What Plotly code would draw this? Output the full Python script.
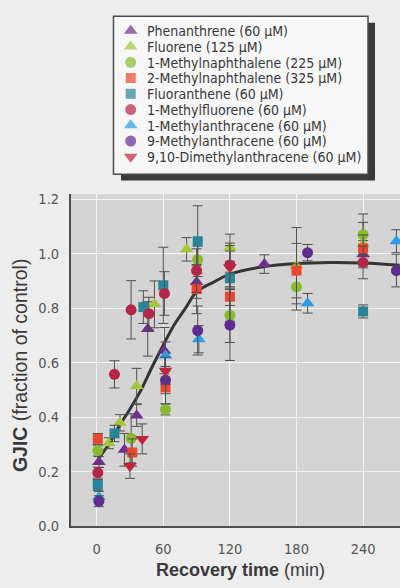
import plotly.graph_objects as go

# ---------------- data ----------------
series_names = [
    "Phenanthrene (60 μM)",
    "Fluorene (125 μM)",
    "1-Methylnaphthalene (225 μM)",
    "2-Methylnaphthalene (325 μM)",
    "Fluoranthene (60 μM)",
    "1-Methylfluorene (60 μM)",
    "1-Methylanthracene (60 μM)",
    "9-Methylanthracene (60 μM)",
    "9,10-Dimethylanthracene (60 μM)",
]

phen_t = [2, 25, 36, 46, 61, 90, 151, 240]
phen_v = [0.235, 0.28, 0.406, 0.724, 0.644, 0.896, 0.962, 0.998]
phen_e = [0.02, 0.06, 0.04, 0.10, 0.085, 0.06, 0.034, 0.05]

fluo_t = [11, 21, 36, 52, 81, 120, 180, 240]
fluo_v = [0.304, 0.379, 0.514, 0.814, 1.016, 1.022, 0.956, 1.035]
fluo_e = [0.02, 0.03, 0.065, 0.086, 0.043, 0.05, 0.14, 0.08]

mn1_t = [1, 31, 62, 91, 120, 180, 240]
mn1_v = [0.277, 0.322, 0.428, 0.978, 0.774, 0.878, 1.07]
mn1_e = [0.02, 0.09, 0.02, 0.05, 0.10, 0.085, 0.076]

mn2_t = [1, 32, 62, 90, 120, 180, 240]
mn2_v = [0.32, 0.27, 0.509, 0.87, 0.842, 0.938, 1.019]
mn2_e = [0.02, 0.05, 0.06, 0.09, 0.09, 0.10, 0.05]

flt_t = [1, 16, 42, 60, 91, 120, 240]
flt_v = [0.151, 0.34, 0.804, 0.884, 1.046, 0.91, 0.788]
flt_e = [0.02, 0.03, 0.06, 0.14, 0.13, 0.10, 0.024]

mf1_t = [1, 16, 31, 47, 61, 90, 120, 240]
mf1_v = [0.196, 0.557, 0.794, 0.78, 0.854, 0.938, 0.959, 0.968]
mf1_e = [0.02, 0.05, 0.107, 0.06, 0.08, 0.08, 0.08, 0.06]

ma1_t = [2, 62, 92, 190, 270]
ma1_v = [0.107, 0.626, 0.686, 0.818, 1.046]
ma1_e = [0.02, 0.05, 0.05, 0.036, 0.042]

ma9_t = [2, 62, 91, 120, 190, 270]
ma9_v = [0.091, 0.536, 0.718, 0.738, 1.004, 0.938]
ma9_e = [0.02, 0.05, 0.09, 0.13, 0.03, 0.06]

dma_t = [30, 41, 62, 120]
dma_v = [0.22, 0.32, 0.57, 0.95]
dma_e = [0.045, 0.055, 0.05, 0.08]

# fitted curve
curve_t = [1, 10, 20, 30, 40, 50, 60, 70, 80, 90, 105, 120, 150, 180, 210, 240, 273]
curve_v = [0.245, 0.295, 0.365, 0.43, 0.50, 0.585, 0.665, 0.74, 0.80, 0.86, 0.895,
           0.925, 0.952, 0.964, 0.968, 0.966, 0.958]

x_ticks = [0, 60, 120, 180, 240]
y_ticks = [0.0, 0.2, 0.4, 0.6, 0.8, 1.0, 1.2]

# ---------------- styles ----------------
symbols = ["triangle-up", "triangle-up", "circle", "square", "square",
           "circle", "triangle-up", "circle", "triangle-down"]
colors = ["#6e2f8f", "#a3c63a", "#88b92f", "#e9472f", "#288597",
          "#b3264a", "#2c9ce3", "#5f2c90", "#c0233b"]
msize = {"triangle-up": 12, "triangle-down": 12, "circle": 11, "square": 10}

series_t = [phen_t, fluo_t, mn1_t, mn2_t, flt_t, mf1_t, ma1_t, ma9_t, dma_t]
series_v = [phen_v, fluo_v, mn1_v, mn2_v, flt_v, mf1_v, ma1_v, ma9_v, dma_v]
series_e = [phen_e, fluo_e, mn1_e, mn2_e, flt_e, mf1_e, ma1_e, ma9_e, dma_e]

W, H = 400, 588
PL, PR, PT, PB = 71, 400, 195, 533   # plot area in pixels
NARROW = "Liberation Sans Narrow, Arial Narrow, DejaVu Sans Condensed, sans-serif"
REG = "Liberation Sans, Arial, Helvetica, sans-serif"
PAPER = "#ededed"
PLOTBG = "#d4d4d4"
AXC = "#4e4e4e"


def px(x):
    return x / W


def py(y):
    return 1 - y / H


fig = go.Figure()

fig.add_trace(go.Scatter(
    x=curve_t, y=curve_v, mode="lines", line=dict(color="#353535", width=3, shape="spline"),
    showlegend=False, hoverinfo="skip"))

for name, t, v, e, sym, col in zip(series_names, series_t, series_v, series_e, symbols, colors):
    fig.add_trace(go.Scatter(
        x=t, y=v, mode="markers", name=name, showlegend=False,
        marker=dict(symbol=sym, color=col, size=msize[sym], line=dict(width=0)),
        error_y=dict(type="data", array=e, color="#505050", thickness=1, width=5),
    ))

# manual legend (markers on an overlay pixel-axis, labels as annotations)
row0, row_step = 28.3, 16.05
leg_rows = [row0 + i * row_step for i in range(len(series_names))]
fig.add_trace(go.Scatter(
    x=[130.7] * len(series_names), y=leg_rows, mode="markers", xaxis="x2", yaxis="y2",
    marker=dict(symbol=symbols, color=colors, size=[msize[s] for s in symbols], line=dict(width=0)),
    showlegend=False, hoverinfo="skip"))

annotations = []
for name, yr in zip(series_names, leg_rows):
    annotations.append(dict(
        text=name, x=px(145.5), y=py(yr + 0.3), xref="paper", yref="paper",
        xanchor="left", yanchor="middle", showarrow=False, borderpad=0,
        font=dict(family=NARROW, size=14, color="#383838")))

annotations.append(dict(
    text="<b>Recovery time</b> (min)", x=px(240), y=py(578), xref="paper", yref="paper",
    xanchor="center", yanchor="middle", showarrow=False,
    font=dict(family=REG, size=18, color="#3a3a3a")))
annotations.append(dict(
    text="<b>GJIC</b> (fraction of control)", x=px(20), y=py(369), xref="paper", yref="paper",
    xanchor="center", yanchor="middle", showarrow=False, textangle=-90,
    font=dict(family=REG, size=19.5, color="#3a3a3a")))

shapes = [
    # plot area background
    dict(type="rect", xref="paper", yref="paper", x0=px(PL), x1=px(PR), y0=py(PB), y1=py(PT),
         fillcolor=PLOTBG, line=dict(width=0), layer="below"),
    # legend shadow
    dict(type="rect", xref="paper", yref="paper", x0=px(121), x1=px(375), y0=py(181), y1=py(20),
         fillcolor="#3a3a3a", line=dict(width=0), layer="below"),
    # legend box
    dict(type="rect", xref="paper", yref="paper", x0=px(113.5), x1=px(368), y0=py(174.5), y1=py(13.5),
         fillcolor="#f7f7f7", line=dict(color="#4a4a4a", width=1.5), layer="below"),
]

x_span = (PR - PL) / 66.6 * 60
x0 = -(96.7 - PL) / 66.6 * 60
y_top = (PB - PT) / 277.5

fig.update_layout(
    width=W, height=H,
    margin=dict(l=0, r=0, t=0, b=0),
    paper_bgcolor=PAPER, plot_bgcolor="rgba(0,0,0,0)",
    font=dict(family=NARROW, color="#555555"),
    showlegend=False,
    annotations=annotations,
    shapes=shapes,
    xaxis=dict(domain=[px(PL), px(PR)], range=[x0, x0 + x_span], tickvals=x_ticks,
               ticktext=[str(v) for v in x_ticks],
               showgrid=True, gridcolor="#f4f4f4", gridwidth=1,
               zeroline=True, zerolinecolor="#f4f4f4", zerolinewidth=1,
               showline=True, linecolor=AXC, linewidth=2,
               ticks="outside", ticklen=9, tickcolor="rgba(0,0,0,0)",
               tickfont=dict(family=NARROW, size=14.5, color="#555555"),
               anchor="y", fixedrange=True),
    yaxis=dict(domain=[py(PB), py(PT)], range=[0, y_top], tickvals=y_ticks,
               ticktext=["%.1f" % v for v in y_ticks],
               showgrid=True, gridcolor="#f4f4f4", gridwidth=1, zeroline=False,
               showline=True, linecolor=AXC, linewidth=2,
               ticks="outside", ticklen=7, tickcolor="rgba(0,0,0,0)",
               tickfont=dict(family=NARROW, size=14.5, color="#555555"),
               anchor="x", fixedrange=True),
    xaxis2=dict(domain=[0, 1], range=[0, W], visible=False, anchor="y2", fixedrange=True),
    yaxis2=dict(domain=[0, 1], range=[H, 0], visible=False, anchor="x2", fixedrange=True),
)

fig.write_html(
    "out.html",
    config={"displayModeBar": False},
    post_script="document.body.style.margin='0';document.body.style.background='%s';" % PAPER,
)
